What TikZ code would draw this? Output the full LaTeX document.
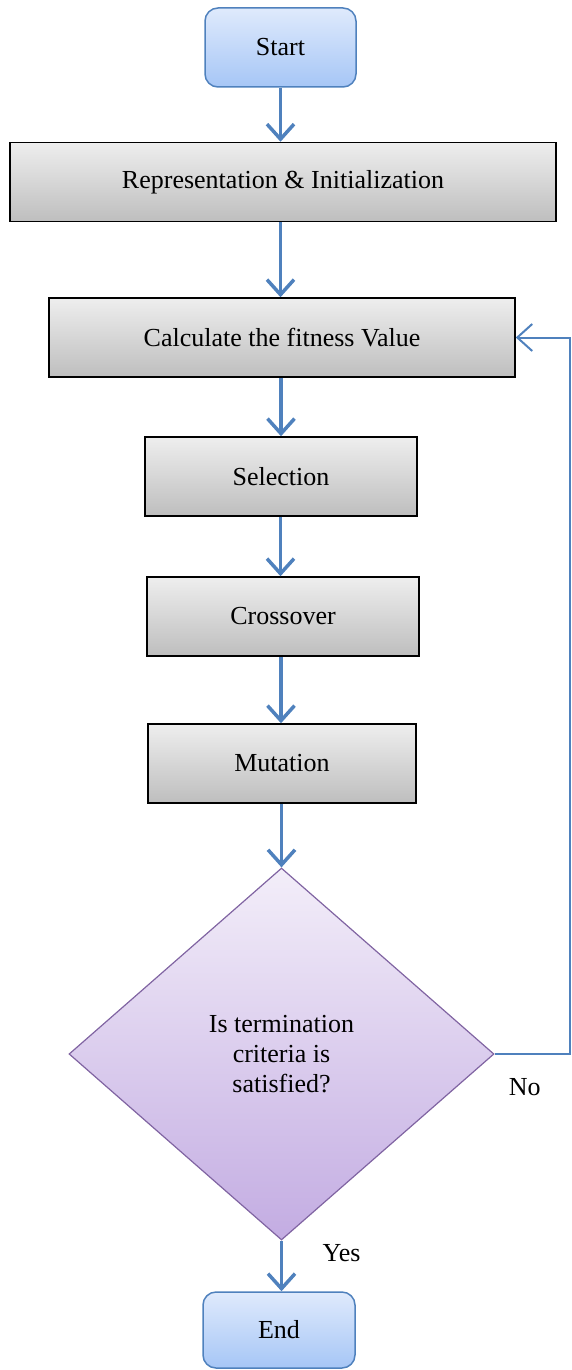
\documentclass[tikz,border=0pt]{standalone}
\usepackage{fontspec}
\setmainfont{Liberation Serif}
\usetikzlibrary{shapes.geometric, arrows.meta, positioning, calc}

\definecolor{flowblue}{HTML}{4F81BD}
\definecolor{termtop}{HTML}{DFEAFC}
\definecolor{termbot}{HTML}{A6C6F6}
\definecolor{boxtop}{HTML}{EEEEEE}
\definecolor{boxbot}{HTML}{BEBEBE}
\definecolor{dectop}{HTML}{F3EEF9}
\definecolor{decbot}{HTML}{C3ACE2}
\definecolor{decline}{HTML}{8064A2}

\begin{document}
\begin{tikzpicture}[x=1pt, y=1pt, >={Straight Barb[length=15pt, width=27pt]}, font=\fontsize{26}{30}\selectfont]
        % Stiles
        \tikzstyle{term} = [draw=flowblue, line width=1.5pt, rounded corners=13pt, top color=termtop, bottom color=termbot, minimum width=151pt, minimum height=79pt]
        \tikzstyle{block} = [draw=black, line width=1.5pt, top color=boxtop, bottom color=boxbot, minimum height=79pt]
        \tikzstyle{decision} = [diamond, draw=decline, line width=1.2pt, top color=dectop, bottom color=decbot, minimum width=425pt, minimum height=372pt, inner sep=0pt, align=center]
        \tikzstyle{flow} = [->, draw=flowblue, line width=3.5pt]
        \useasboundingbox (0,0) rectangle (571,-1370);

        % Blocks
        \node [term] (start) at (280.5,-47.5) {Start};
        \node [block, minimum width=546pt] (init) at (283,-182) {Representation \& Initialization};
        \node [block, minimum width=466pt] (fitness) at (282,-337.5) {Calculate the fitness Value};
        \node [block, minimum width=272pt] (select) at (281,-476.5) {Selection};
        \node [block, minimum width=272pt] (cross) at (283,-616.5) {Crossover};
        \node [block, minimum width=268pt] (mutate) at (282,-763.5) {Mutation};
        \node [decision] (stop) at (281.5,-1054) {Is termination\\criteria is\\satisfied?};
        \node [term, minimum width=152pt, minimum height=76pt] (end) at (279,-1330) {End};

        % Arrows
        \draw [flow] (start.south) -- (start.south |- init.north);
        \draw [flow] (start.south |- init.south) -- (start.south |- fitness.north);
        \draw [flow] (select.north |- fitness.south) -- (select.north);
        \draw [flow] (start.south |- select.south) -- (start.south |- cross.north);
        \draw [flow] (select.north |- cross.south) -- (select.north |- mutate.north);
        \draw [flow] (stop.north |- mutate.south) -- (stop.north);
        \draw [flow] (stop.south) -- (stop.south |- end.north) node[pos=0.25, right=36pt] {Yes};

        % Loop back
        \coordinate (loop) at (570,0);
        \draw [flow, line width=2pt] (stop.east) -- (stop.east -| loop) node[below=20pt, pos=0.4] {No} |- (fitness.east);

    \end{tikzpicture}
\end{document}
